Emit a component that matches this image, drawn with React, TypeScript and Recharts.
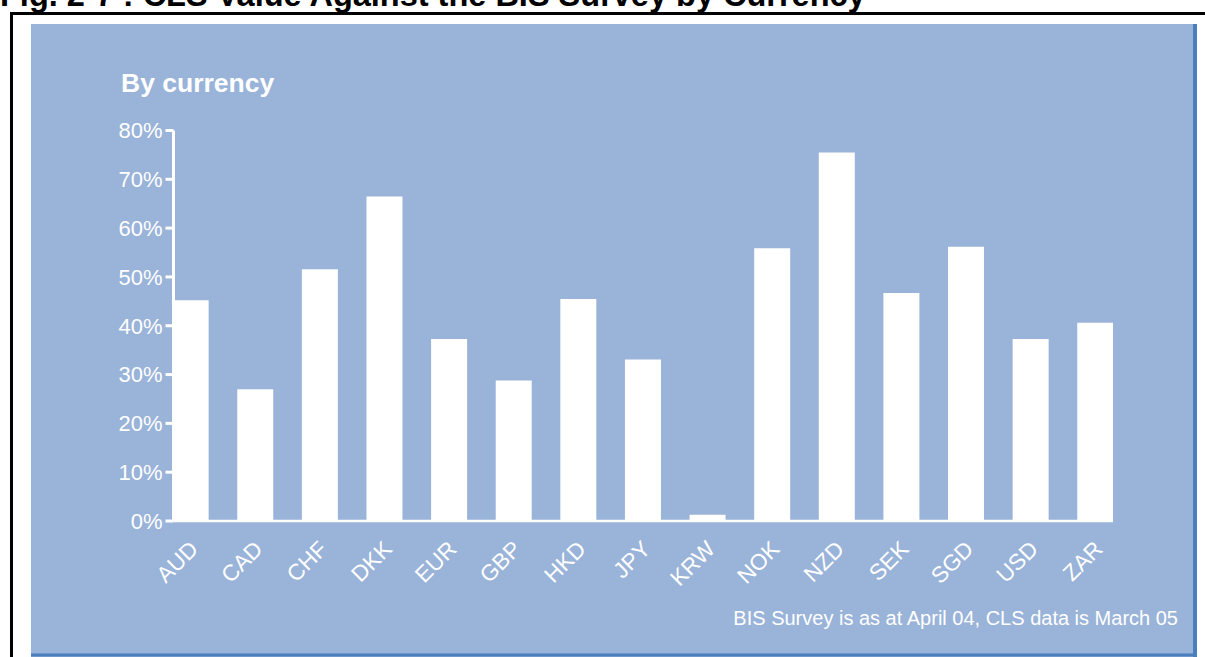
import React from "react";
import { BarChart, Bar, XAxis, YAxis } from "recharts";

const categories = ["AUD", "CAD", "CHF", "DKK", "EUR", "GBP", "HKD", "JPY", "KRW", "NOK", "NZD", "SEK", "SGD", "USD", "ZAR"];
const clsShare = [45.2, 27.0, 51.6, 66.5, 37.3, 28.8, 45.5, 33.1, 1.3, 55.9, 75.5, 46.7, 56.2, 37.3, 40.6];
const yTicks = [0, 10, 20, 30, 40, 50, 60, 70, 80];
const figureTitle = "Fig. 2-7 : CLS Value Against the BIS Survey by Currency";
const panelTitle = "By currency";
const footnote = "BIS Survey is as at April 04, CLS data is March 05";

const data = categories.map((name, i) => ({ idx: i, name, value: clsShare[i] }));

const FONT = "'Liberation Sans', Arial, Helvetica, sans-serif";
const PANEL = "#99B3D9";
const EDGE = "#4A7EBD";

const XTick = (props: any) => {
  const { x, y, payload } = props;
  return (
    <g transform={`translate(${x + 8.5},${y + 29.5})`}>
      <text
        x={0}
        y={0}
        transform="rotate(-45)"
        textAnchor="end"
        fill="#ffffff"
        fontSize={22.5}
        fontFamily={FONT}
      >
        {categories[payload.value]}
      </text>
    </g>
  );
};

export default function App() {
  return (
    <div style={{ position: "absolute", left: 0, top: 0, width: 1205, height: 657, overflow: "hidden", background: "#ffffff" }}>
      <svg width={1205} height={657} style={{ position: "absolute", left: 0, top: 0 }}>
        <text x={0} y={5.5} fontFamily={FONT} fontWeight="bold" fontSize={32.5} fill="#000000">
          {figureTitle}
        </text>
        <rect x={10} y={12} width={1195} height={3} fill="#000000" />
        <rect x={10} y={12} width={3} height={645} fill="#000000" />
        <rect x={31} y={24} width={1166} height={633} fill={PANEL} />
        <rect x={1193} y={24} width={4} height={633} fill={EDGE} />
        <rect x={31} y={653.5} width={1166} height={3} fill={EDGE} />
        <text x={121} y={91.7} fontFamily={FONT} fontWeight="bold" fontSize={26.5} fill="#ffffff">
          {panelTitle}
        </text>
        <text x={1178} y={625} textAnchor="end" fontFamily={FONT} fontSize={20} fill="#ffffff">
          {footnote}
        </text>
      </svg>
      <div style={{ position: "absolute", left: 0, top: 0 }}>
        <BarChart
          width={1205}
          height={657}
          data={data}
          margin={{ top: 130.5, right: 92, bottom: 96, left: 113.5 }}
        >
          <XAxis
            dataKey="idx"
            type="number"
            domain={[-0.27, 14.27]}
            ticks={categories.map((_, i) => i)}
            allowDataOverflow
            height={40}
            tickSize={0}
            tickMargin={0}
            tickLine={false}
            axisLine={{ stroke: "#ffffff", strokeWidth: 2.5 }}
            tick={<XTick />}
            interval={0}
          />
          <YAxis
            type="number"
            domain={[0, 80]}
            ticks={yTicks}
            width={60}
            tickFormatter={(v: number) => `${v}%`}
            axisLine={{ stroke: "#ffffff", strokeWidth: 3 }}
            tickLine={{ stroke: "#ffffff", strokeWidth: 3 }}
            tickSize={8}
            tickMargin={3}
            tick={{ fill: "#ffffff", fontSize: 22, fontFamily: FONT }}
            interval={0}
          />
          <Bar dataKey="value" fill="#ffffff" barSize={36} isAnimationActive={false} />
        </BarChart>
      </div>
    </div>
  );
}
